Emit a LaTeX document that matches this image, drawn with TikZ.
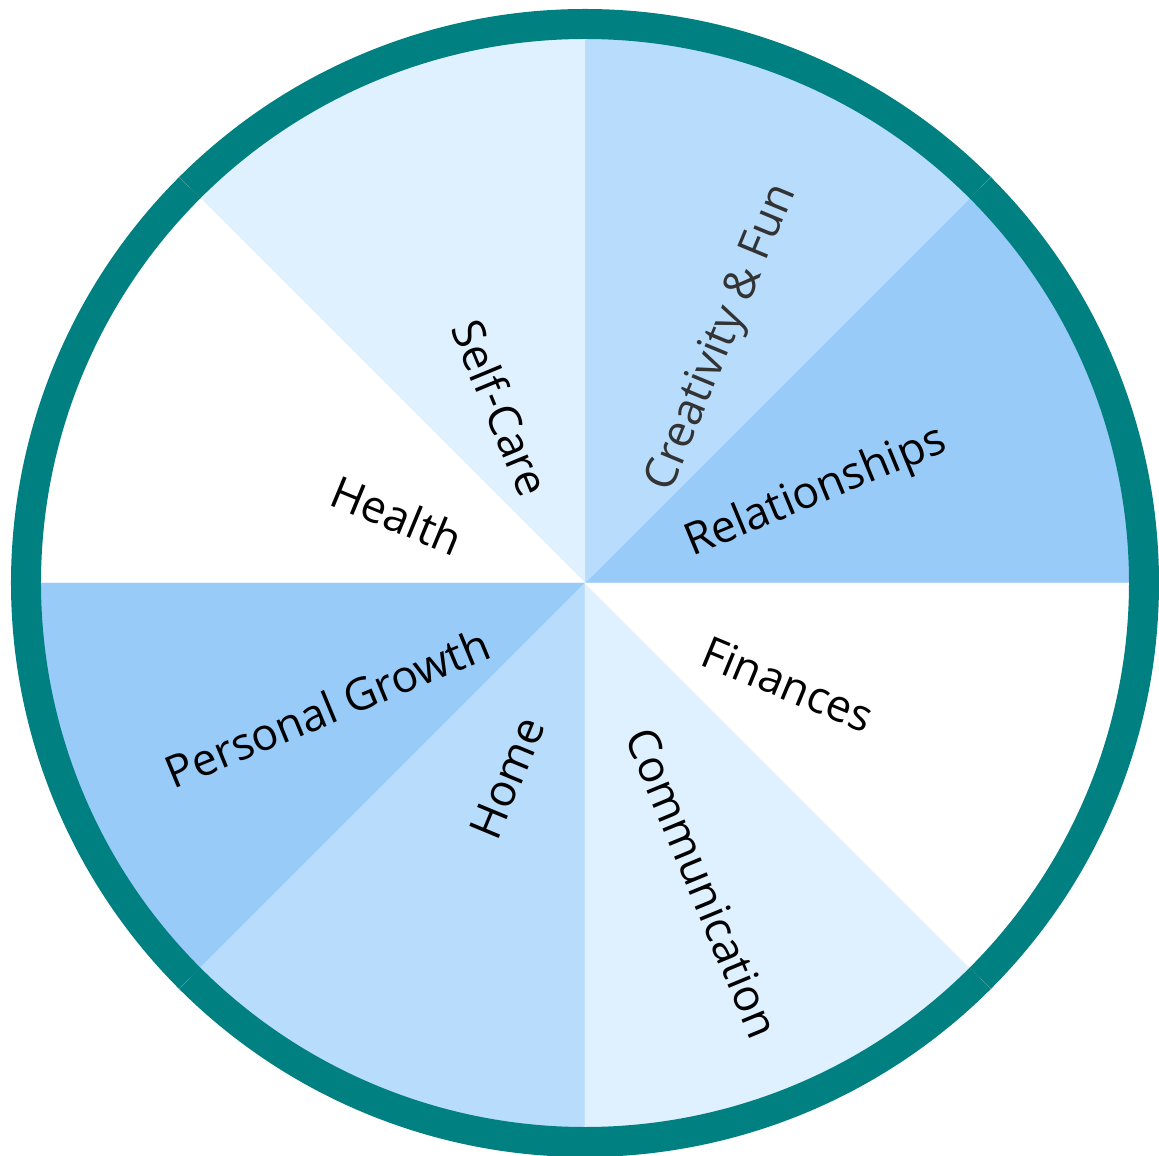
\documentclass[tikz,border=0pt]{standalone}
\usepackage{fontspec}
\setmainfont{Open Sans}
\usetikzlibrary{positioning}
\definecolor{ringteal}{RGB}{0,128,128}
\definecolor{paleblue}{HTML}{DFF0FE}
\definecolor{softblue}{HTML}{B8DDFC}
\definecolor{deepblue}{HTML}{99CBF9}
\definecolor{fungrey}{HTML}{333333}
\tikzset{sector/.style = {
  % Wedge:
  draw=#1,
  line width = 0.4pt,
  fill=#1
  }}
\tikzset{rim/.style = {
  % Outer ring:
  draw=ringteal,
  line width = 30pt
  }}
\tikzset{area/.style = {
  % Text:
  font=\fontsize{44.5}{53}\selectfont,
  text=black,
  inner sep=0pt,
  rotate=#1
  }}

\begin{document}
\begin{tikzpicture}[x=1pt, y=1pt]
  \useasboundingbox (-585,-573) rectangle (574,583);
  %
  % Wedges
  %
  \foreach \start/\shade in {0/deepblue, 45/softblue, 90/paleblue, 135/white,
                             180/deepblue, 225/softblue, 270/paleblue, 315/white}
    \path [sector=\shade] (0,0) -- (\start:548)
      arc [start angle=\start, end angle=\start+45, radius=548] -- cycle;

  %
  % Ring
  %
  \foreach \start in {0,45,...,315}
    \draw [rim] (\start:559) arc [start angle=\start, end angle=\start+45, radius=559];

  %
  % Specification of nodes
  %
  \coordinate (hub) at (0,0);
  \node (relationships) [area=22.5] at (231,90) {Relationships};
  \node (creativity) [area=67.5, text=fungrey] at (138,245) {Creativity \& Fun};
  \node (selfcare) [area=-67.5] at (-84,175) {Self-Care};
  \node (health) [area=-22.5] at (-188,68) {Health};
  \node (growth) [area=22.5] at (-258,-125) {Personal Growth};
  \node (home) [area=67.5] at (-78,-195) {Home};
  \node (communication) [area=-67.5] at (118,-300) {Communication};
  \node (finances) [area=-22.5] at (203,-101) {Finances};
\end{tikzpicture}
\end{document}
